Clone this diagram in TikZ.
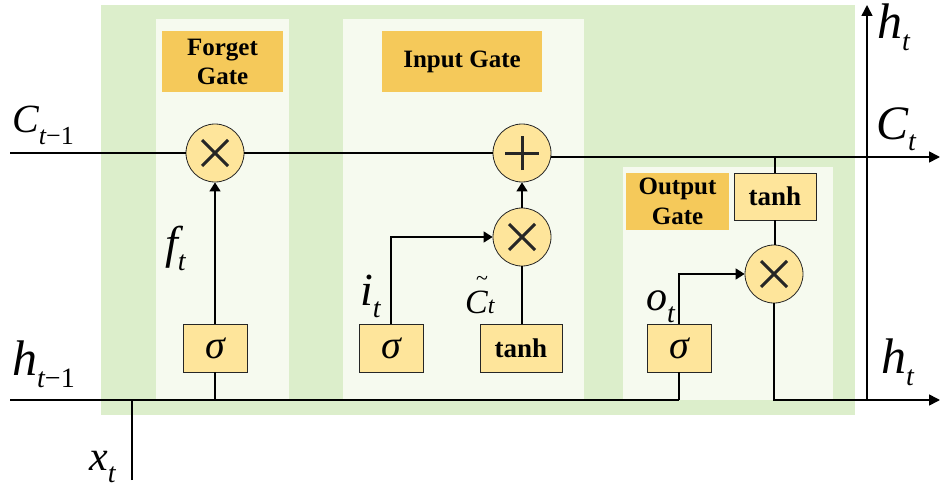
\documentclass[tikz,border=0pt]{standalone}
\usepackage{fontspec}
\setmainfont{Liberation Serif}
\usetikzlibrary{arrows.meta}
\definecolor{bggreen}{HTML}{DCEECB}
\definecolor{panelc}{HTML}{F6FAEF}
\definecolor{gateorange}{HTML}{F5C95A}
\definecolor{opfill}{HTML}{FEE59B}
\newcommand{\varlab}[4]{{\fontsize{#1}{#1}\selectfont\itshape #2}\raisebox{-12pt}{\fontsize{#3}{#3}\selectfont #4}}
\tikzset{
  panel/.style={fill=panelc, draw=none},
  gatelabel/.style={fill=gateorange, inner sep=0pt, align=center, font=\fontsize{25}{29}\selectfont\bfseries},
  opcirc/.style={circle, fill=opfill, draw=black!85, line width=0.8pt, minimum size=58pt, inner sep=0pt},
  opbox/.style={rectangle, fill=opfill, draw=black!85, line width=0.8pt, minimum height=48pt, inner sep=0pt},
  sigbox/.style={opbox, minimum width=64pt, font=\fontsize{40}{40}\selectfont\itshape},
  tanhbox/.style={opbox, minimum width=82pt, font=\fontsize{27}{27}\selectfont\bfseries},
  timesop/.style={opcirc, path picture={\draw[line width=3pt] ([shift={(-13pt,-13pt)}]path picture bounding box.center) -- ([shift={(13pt,13pt)}]path picture bounding box.center); \draw[line width=3pt] ([shift={(-13pt,13pt)}]path picture bounding box.center) -- ([shift={(13pt,-13pt)}]path picture bounding box.center);}},
  plusop/.style={opcirc, path picture={\draw[line width=3pt] ([shift={(-17pt,0pt)}]path picture bounding box.center) -- ([shift={(17pt,0pt)}]path picture bounding box.center); \draw[line width=3pt] ([shift={(0pt,-17pt)}]path picture bounding box.center) -- ([shift={(0pt,17pt)}]path picture bounding box.center);}},
  wire/.style={line width=1.6pt},
  arr/.style={wire, -{Triangle[length=9pt,width=11pt]}},
  bigarr/.style={wire, -{Triangle[length=11pt,width=11pt]}},
  lab/.style={anchor=base west, inner sep=0pt}
}
\begin{document}
\begin{tikzpicture}[x=1pt,y=-1pt]
\useasboundingbox (0,0) rectangle (940,487);
% backgrounds
\fill[bggreen] (101,5) rectangle (855,415);
\fill[panelc] (156,19) rectangle (289,400);
\fill[panelc] (343,19) rectangle (584,400);
\fill[panelc] (623,167) rectangle (833,400);
% gate labels
\node[gatelabel, minimum width=121pt, minimum height=61pt] (fgl) at (222.5,61.5) {Forget\\Gate};
\node[gatelabel, minimum width=160pt, minimum height=61pt] (igl) at (462,61.5) {Input Gate};
\node[gatelabel, minimum width=103pt, minimum height=57pt, font=\fontsize{25}{30}\selectfont\bfseries] (ogl) at (677.5,201.5) {Output\\Gate};
% operators
\node[timesop] (fx) at (215,153) {};
\node[plusop] (plus) at (522,153) {};
\node[timesop] (ix) at (522,237) {};
\node[timesop] (ox) at (774,274) {};
\node[sigbox] (fsig) at (215,348) {σ};
\node[sigbox] (isig) at (391,348) {σ};
\node[tanhbox] (itanh) at (521,348) {tanh};
\node[sigbox] (osig) at (679,348) {σ};
\node[tanhbox, minimum height=47pt] (otanh) at (775,196.5) {tanh};
% coordinates
\coordinate (cin) at (10,153);
\coordinate (cout) at (940,157);
\coordinate (hin) at (10,400);
\coordinate (hout) at (940,400);
\coordinate (fj) at (215,400);
\coordinate (oj) at (679,400);
\coordinate (xin) at (132,480);
\coordinate (xj) at (132,400);
\coordinate (tj) at (775,157);
\coordinate (vb) at (867,400);
\coordinate (vt) at (867,5);
% cell state line
\draw[line width=1.2pt] (cin) -- (fx);
\draw[line width=1.2pt] (fx) -- (plus);
\draw[bigarr] ([yshift=-4pt]plus.east) -- (cout);
% hidden line
\draw[wire] (hin) -- (oj);
\draw[wire] (xin) -- (xj);
% forget gate
\draw[wire] (fj) -- (fsig);
\draw[arr] (fsig) -- (fx);
% input gate
\draw[arr] (isig.north) |- (ix.west);
\draw[wire] (itanh.north -| ix) -- (ix);
\draw[arr] (ix) -- (plus);
% output gate
\draw[wire] (oj) -- (osig);
\draw[arr] (osig.north) |- (ox.west);
\draw[wire] (tj) -- (otanh);
\draw[wire] (otanh) -- (ox.north -| otanh);
\draw[bigarr] (ox.south) |- (hout);
\draw[bigarr] (vb) -- (vt);
% labels
\node[lab] (lc1) at (12,132) {\varlab{40}{C}{26}{\itshape t\upshape−1}};
\node[lab] (lh1) at (12,375) {\varlab{50}{h}{28}{\itshape t\upshape−1}};
\node[lab] (lx) at (89,470) {\varlab{42}{x}{28}{\itshape t}};
\node[lab] (lf) at (165,258) {\varlab{46}{f}{28}{\itshape t}};
\node[lab] (li) at (360,305) {\varlab{46}{i}{28}{\itshape t}};
\node[lab] (lct) at (465,313) {\fontsize{34}{34}\selectfont\itshape\rlap{\hspace{11pt}\raisebox{28pt}{\fontsize{22}{22}\selectfont\upshape\textasciitilde}}C{\fontsize{24}{24}\selectfont t}};
\node[lab] (lo) at (646,310) {\varlab{42}{o}{28}{\itshape t}};
\node[lab] (lht) at (877,39) {\varlab{50}{h}{28}{\itshape t}};
\node[lab] (lcr) at (876,139) {\varlab{48}{C}{28}{\itshape t}};
\node[lab] (lhb) at (881,373) {\varlab{50}{h}{28}{\itshape t}};
\end{tikzpicture}
\end{document}
